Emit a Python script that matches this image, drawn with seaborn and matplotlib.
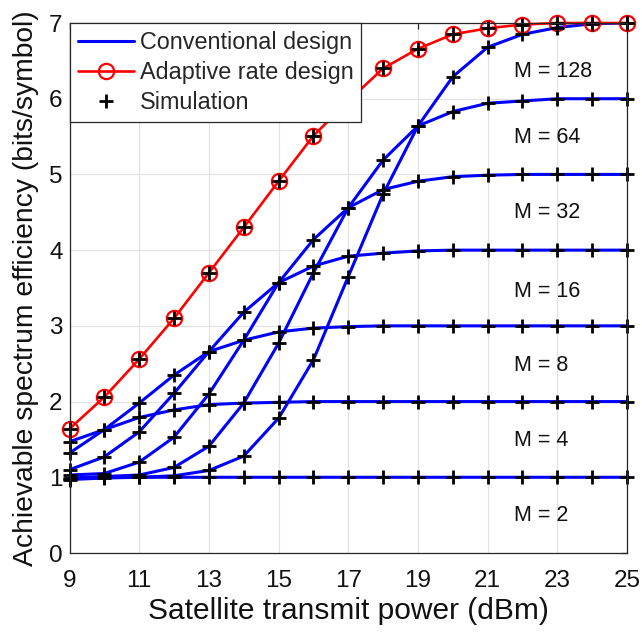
import numpy as np
import pandas as pd
import matplotlib
matplotlib.use("Agg")
import matplotlib.pyplot as plt
from matplotlib.lines import Line2D
import seaborn as sns

power = [9, 10, 11, 12, 13, 14, 15, 16, 17, 18, 19, 20, 21, 22, 23, 24, 25]

m2 = [0.97, 0.99, 1.0, 1.0, 1.0, 1.0, 1.0, 1.0, 1.0, 1.0, 1.0, 1.0, 1.0, 1.0, 1.0, 1.0, 1.0]
m4 = [1.47, 1.63, 1.79, 1.89, 1.96, 1.98, 1.99, 2.0, 2.0, 2.0, 2.0, 2.0, 2.0, 2.0, 2.0, 2.0, 2.0]
m8 = [1.32, 1.63, 1.98, 2.35, 2.66, 2.81, 2.92, 2.97, 2.99, 3.0, 3.0, 3.0, 3.0, 3.0, 3.0, 3.0, 3.0]
m16 = [1.10, 1.27, 1.60, 2.11, 2.66, 3.18, 3.57, 3.79, 3.92, 3.96, 3.99, 4.0, 4.0, 4.0, 4.0, 4.0, 4.0]
m32 = [1.03, 1.05, 1.20, 1.53, 2.10, 2.81, 3.57, 4.14, 4.56, 4.80, 4.91, 4.97, 4.99, 5.0, 5.0, 5.0, 5.0]
m64 = [0.99, 1.01, 1.03, 1.13, 1.41, 1.98, 2.77, 3.70, 4.56, 5.19, 5.64, 5.83, 5.94, 5.97, 6.0, 6.0, 6.0]
m128 = [0.98, 1.0, 1.0, 1.02, 1.09, 1.28, 1.78, 2.55, 3.65, 4.74, 5.64, 6.29, 6.68, 6.85, 6.94, 6.99, 7.0]
adaptive = [1.64, 2.06, 2.56, 3.10, 3.70, 4.30, 4.91, 5.51, 5.97, 6.40, 6.66, 6.85, 6.93, 6.98, 7.0, 7.0, 7.0]

m_labels = ["M = 2", "M = 4", "M = 8", "M = 16", "M = 32", "M = 64", "M = 128"]
label_y = [0.50, 1.49, 2.48, 3.45, 4.50, 5.49, 6.36]
label_x = 21.75

x_ticks = [9, 11, 13, 15, 17, 19, 21, 23, 25]
y_ticks = [0, 1, 2, 3, 4, 5, 6, 7]

series = {"M = 2": m2, "M = 4": m4, "M = 8": m8, "M = 16": m16,
          "M = 32": m32, "M = 64": m64, "M = 128": m128}
conv = pd.DataFrame([(k, p, v) for k, vals in series.items() for p, v in zip(power, vals)],
                    columns=["M", "power", "se"])
adapt = pd.DataFrame({"power": power, "se": adaptive})

sns.set_style("white")
plt.rcParams["font.family"] = ["Liberation Sans", "DejaVu Sans"]

fig = plt.figure(figsize=(6.42, 6.37), dpi=100)
ax = fig.add_axes([69.5 / 642, 1 - 553 / 637, 557.5 / 642, 530 / 637])

blue = "#0000ff"
red = "#ff0000"
dark = "#262626"

sns.lineplot(data=conv, x="power", y="se", units="M", estimator=None,
             color=blue, lw=2.2, ax=ax, legend=False, sort=False)
sns.lineplot(data=adapt, x="power", y="se", color=red, lw=1.9, marker="o",
             markersize=11, markerfacecolor="none", markeredgecolor=red,
             markeredgewidth=1.6, ax=ax, legend=False, clip_on=False)
# simulation markers
sim = pd.concat([conv[["power", "se"]], adapt], ignore_index=True)
for _, g in sim.groupby(np.arange(len(sim)) // len(power)):
    sns.lineplot(data=g, x="power", y="se", color="k", linestyle="none",
                 marker="+", markersize=10, markeredgewidth=2.0,
                 markeredgecolor="k", ax=ax, legend=False, clip_on=False)

for lab, yy in zip(m_labels, label_y):
    ax.text(label_x, yy, lab, ha="left", va="center", fontsize=15.5, color="#111111")

ax.set_xlim(9, 25)
ax.set_ylim(0, 7)
ax.set_xticks(x_ticks)
ax.set_yticks(y_ticks)
ax.grid(True, color="#e3e3e3", lw=0.9)
ax.set_axisbelow(True)
for s in ax.spines.values():
    s.set_color(dark)
    s.set_linewidth(0.9)
ax.tick_params(direction="in", length=4, width=0.9, color=dark,
               labelsize=17.5, labelcolor="#111111", top=True, right=True)
ax.tick_params(axis="x", pad=12)
ax.tick_params(axis="y", pad=5)
ax.set_xlabel("Satellite transmit power (dBm)", fontsize=21.5, color="#111111")
ax.set_ylabel("Achievable spectrum efficiency (bits/symbol)", fontsize=20.3, color="#111111")
ax.xaxis.set_label_coords(0.5, -0.083)
ax.yaxis.set_label_coords(-0.055, 0.5)

handles = [
    Line2D([], [], color=blue, lw=2.2),
    Line2D([], [], color=red, lw=1.9, marker="o", markersize=11,
           markerfacecolor="none", markeredgewidth=1.6),
    Line2D([], [], color="k", linestyle="none", marker="+", markersize=10,
           markeredgewidth=2.0),
]
leg = ax.legend(handles, ["Conventional design", "Adaptive rate design", "Simulation"],
                loc="upper left", borderaxespad=0, fontsize=16.8, fancybox=False,
                framealpha=1, edgecolor=dark, handlelength=2.4,
                handletextpad=0.25, borderpad=0.35, labelspacing=0.3)
leg.get_frame().set_linewidth(0.9)
leg.set_zorder(5)

fig.savefig("out.png", dpi=100)
